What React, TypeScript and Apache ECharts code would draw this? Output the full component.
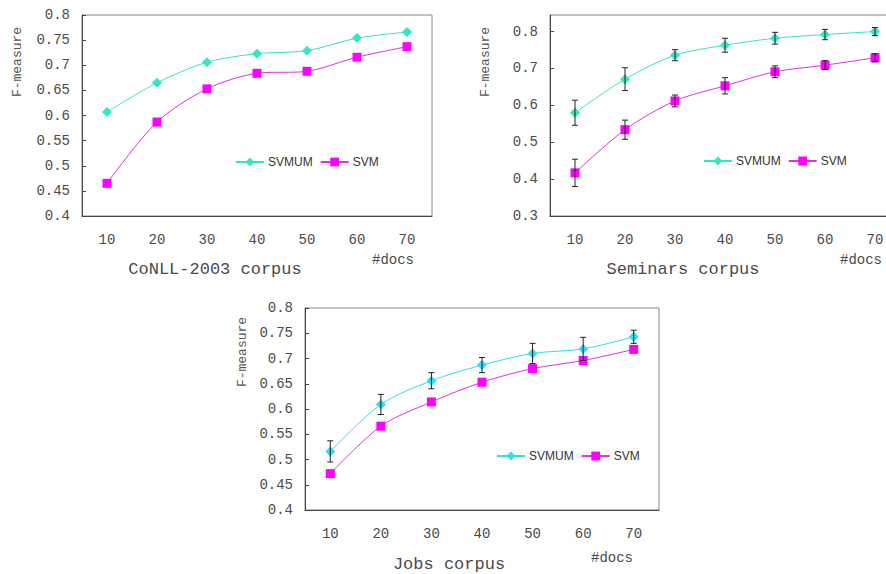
import React, { useEffect, useRef } from "react";
import * as echarts from "echarts";

const categories = ["10", "20", "30", "40", "50", "60", "70"];
const yTicksMin = [0.4, 0.3, 0.4];

const conllSvmum = [0.607, 0.665, 0.706, 0.723, 0.729, 0.754, 0.766];
const conllSvm = [0.465, 0.587, 0.653, 0.684, 0.688, 0.716, 0.737];

const seminarsSvmum = [0.58, 0.671, 0.736, 0.763, 0.782, 0.792, 0.8];
const seminarsSvmumErr = [0.034, 0.031, 0.015, 0.019, 0.016, 0.014, 0.011];
const seminarsSvm = [0.417, 0.534, 0.612, 0.653, 0.691, 0.709, 0.729];
const seminarsSvmErr = [0.037, 0.026, 0.016, 0.022, 0.016, 0.012, 0.011];

const jobsSvmum = [0.516, 0.609, 0.656, 0.687, 0.71, 0.719, 0.743];
const jobsSvmumErr = [0.021, 0.02, 0.016, 0.015, 0.02, 0.023, 0.013];
const jobsSvm = [0.472, 0.566, 0.614, 0.653, 0.68, 0.696, 0.718];

const MONO = "'Liberation Mono', 'DejaVu Sans Mono', monospace";
const SANS = "'Liberation Sans', Arial, sans-serif";
const TEXT = "#4a4a4a";

type PanelCfg = {
  grid: { left: number; top: number; width: number; height: number };
  yMin: number;
  yMax: number;
  yInterval: number;
  hideMax: boolean;
  svmum: number[];
  svmumErr?: number[];
  svm: number[];
  svmErr?: number[];
  cyan: string;
  legend: { left: number; top: number };
  fm: { x: number; y: number };
  title: { text: string; x: number; y: number };
  docs: { x: number; y: number };
};

function errorSeries(values: number[], err: number[]) {
  return {
    type: "custom",
    silent: true,
    z: 5,
    renderItem: (params: any, api: any) => {
      const x = api.value(0);
      const lo = api.coord([x, api.value(1)]);
      const hi = api.coord([x, api.value(2)]);
      const cap = 3;
      const st = { stroke: "#222", lineWidth: 1 };
      return {
        type: "group",
        children: [
          { type: "line", shape: { x1: lo[0], y1: lo[1], x2: hi[0], y2: hi[1] }, style: st },
          { type: "line", shape: { x1: lo[0] - cap, y1: lo[1], x2: lo[0] + cap, y2: lo[1] }, style: st },
          { type: "line", shape: { x1: hi[0] - cap, y1: hi[1], x2: hi[0] + cap, y2: hi[1] }, style: st },
        ],
      };
    },
    encode: { x: 0, y: [1, 2] },
    data: values.map((v, i) => [i, v - err[i], v + err[i]]),
  };
}

function buildOption(c: PanelCfg): any {
  const series: any[] = [
    {
      name: "SVMUM",
      type: "line",
      data: c.svmum,
      smooth: 0.3,
      symbol: "diamond",
      symbolSize: 10,
      itemStyle: { color: c.cyan },
      lineStyle: { color: c.cyan, width: 1 },
      z: 3,
    },
    {
      name: "SVM",
      type: "line",
      data: c.svm,
      smooth: 0.3,
      symbol: "rect",
      symbolSize: 9,
      itemStyle: { color: "#FF00FF" },
      lineStyle: { color: "#E030E0", width: 1 },
      z: 3,
    },
  ];
  if (c.svmumErr) series.push(errorSeries(c.svmum, c.svmumErr));
  if (c.svmErr) series.push(errorSeries(c.svm, c.svmErr));
  return {
    animation: false,
    backgroundColor: "#fff",
    grid: { ...c.grid, show: true, borderColor: "#888", borderWidth: 1, containLabel: false },
    legend: {
      data: ["SVMUM", "SVM"],
      left: c.legend.left,
      top: c.legend.top,
      itemWidth: 28,
      itemHeight: 11,
      itemGap: 7,
      padding: 0,
      selectedMode: false,
      textStyle: { fontFamily: SANS, fontSize: 12, color: "#333", padding: [0, 0, 0, -1] },
    },
    xAxis: {
      type: "category",
      data: categories,
      boundaryGap: true,
      axisLine: { lineStyle: { color: "#444", width: 1 } },
      axisTick: { inside: true, length: 4, lineStyle: { color: "#444" } },
      axisLabel: { fontFamily: MONO, fontSize: 14, color: TEXT, margin: 17 },
      splitLine: { show: false },
    },
    yAxis: {
      type: "value",
      min: c.yMin,
      max: c.yMax,
      interval: c.yInterval,
      axisLine: { show: true, lineStyle: { color: "#444", width: 1 } },
      axisTick: { show: true, inside: true, length: 4, lineStyle: { color: "#444" } },
      axisLabel: {
        fontFamily: MONO,
        fontSize: 14,
        color: TEXT,
        margin: 12,
        showMaxLabel: !c.hideMax,
      },
      splitLine: { show: false },
    },
    graphic: [
      {
        type: "text",
        x: c.fm.x,
        y: c.fm.y,
        rotation: Math.PI / 2,
        style: {
          text: "F-measure",
          fontFamily: MONO,
          fontSize: 13,
          fill: "#555",
          align: "center",
          verticalAlign: "middle",
        },
      },
      {
        type: "text",
        x: c.title.x,
        y: c.title.y,
        style: {
          text: c.title.text,
          fontFamily: MONO,
          fontSize: 17,
          fill: TEXT,
          align: "center",
          verticalAlign: "middle",
        },
      },
      {
        type: "text",
        x: c.docs.x,
        y: c.docs.y,
        style: {
          text: "#docs",
          fontFamily: MONO,
          fontSize: 14,
          fill: TEXT,
          align: "left",
          verticalAlign: "middle",
        },
      },
    ],
    series,
  };
}

const panels: { box: { left: number; top: number; width: number; height: number }; cfg: PanelCfg }[] = [
  {
    box: { left: 0, top: 0, width: 440, height: 286 },
    cfg: {
      grid: { left: 82, top: 15, width: 350, height: 201 },
      yMin: yTicksMin[0],
      yMax: 0.8,
      yInterval: 0.05,
      hideMax: false,
      svmum: conllSvmum,
      svm: conllSvm,
      cyan: "#33E6C4",
      legend: { left: 235, top: 156 },
      fm: { x: 17, y: 62 },
      title: { text: "CoNLL-2003 corpus", x: 215, y: 269 },
      docs: { x: 372, y: 260 },
    },
  },
  {
    box: { left: 440, top: 0, width: 480, height: 286 },
    cfg: {
      grid: { left: 110, top: 15, width: 350, height: 201 },
      yMin: yTicksMin[1],
      yMax: 0.845,
      yInterval: 0.1,
      hideMax: true,
      svmum: seminarsSvmum,
      svmumErr: seminarsSvmumErr,
      svm: seminarsSvm,
      svmErr: seminarsSvmErr,
      cyan: "#33E6C4",
      legend: { left: 263, top: 155 },
      fm: { x: 45, y: 62 },
      title: { text: "Seminars corpus", x: 243, y: 269 },
      docs: { x: 400, y: 260 },
    },
  },
  {
    box: { left: 220, top: 290, width: 450, height: 284 },
    cfg: {
      grid: { left: 85, top: 18, width: 354, height: 202 },
      yMin: yTicksMin[2],
      yMax: 0.8,
      yInterval: 0.05,
      hideMax: false,
      svmum: jobsSvmum,
      svmumErr: jobsSvmumErr,
      svm: jobsSvm,
      cyan: "#33DDEE",
      legend: { left: 276, top: 160 },
      fm: { x: 22, y: 62 },
      title: { text: "Jobs corpus", x: 229, y: 274 },
      docs: { x: 371, y: 268 },
    },
  },
];

function Panel({ box, cfg }: { box: any; cfg: PanelCfg }) {
  const ref = useRef<HTMLDivElement>(null);
  useEffect(() => {
    if (!ref.current) return;
    const chart = echarts.init(ref.current, null, { renderer: "svg" });
    chart.setOption(buildOption(cfg));
    return () => chart.dispose();
  }, []);
  return (
    <div
      ref={ref}
      style={{ position: "absolute", left: box.left, top: box.top, width: box.width, height: box.height }}
    />
  );
}

export default function App() {
  return (
    <div style={{ position: "absolute", left: 0, top: 0, width: 886, height: 574, background: "#fff", overflow: "hidden" }}>
      {panels.map((p, i) => (
        <Panel key={i} box={p.box} cfg={p.cfg} />
      ))}
    </div>
  );
}
